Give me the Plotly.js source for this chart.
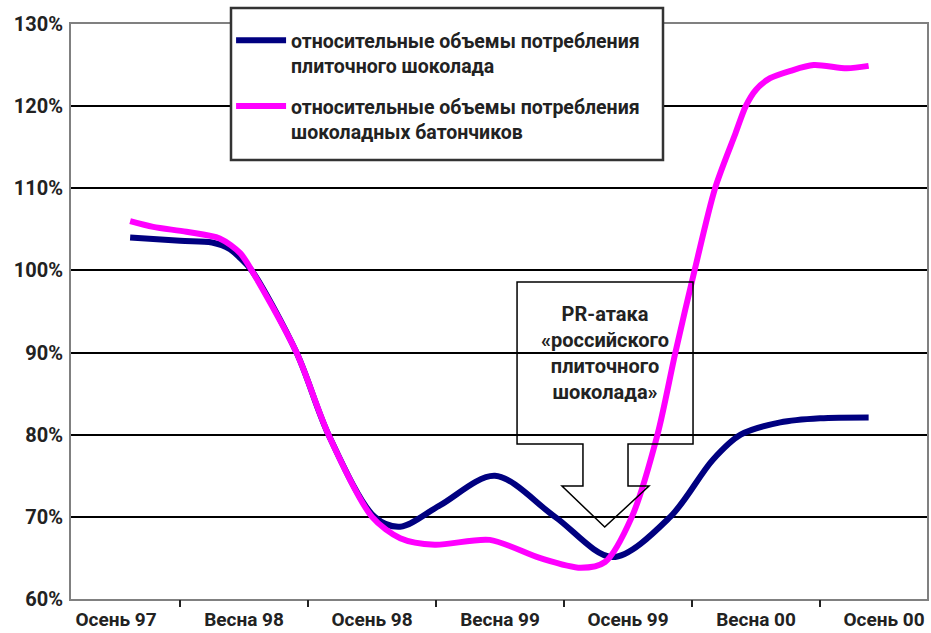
<!DOCTYPE html>
<html>
<head>
<meta charset="utf-8">
<script src="https://cdn.plot.ly/plotly-3.0.1.min.js"></script>
<style>html,body{margin:0;padding:0;background:#fff;}#chart{width:931px;height:633px;}</style>
</head>
<body>
<div id="chart"></div>
<script>
// Category labels (positions 0..6 on the x axis)
const categories = ["Осень 97", "Весна 98", "Осень 98", "Весна 99", "Осень 99", "Весна 00", "Осень 00"];
const categoryPos = [0, 1, 2, 3, 4, 5, 6];
const tickBetween = [0.5, 1.5, 2.5, 3.5, 4.5, 5.5];
const yTicks = [60, 70, 80, 90, 100, 110, 120, 130];
const yTickText = ["60%", "70%", "80%", "90%", "100%", "110%", "120%", "130%"];

// Series 1: относительные объемы потребления плиточного шоколада (%)
const barX = [0.11, 0.50, 0.75, 0.89, 0.97, 1.06, 1.41, 1.66, 2.02, 2.22, 2.53, 2.96, 3.43, 3.88, 4.33, 4.66, 4.88, 5.19, 5.50, 5.88];
const barY = [104.0, 103.6, 103.4, 102.6, 101.5, 100, 90, 80, 70, 68.8, 71.4, 75.0, 70, 65.1, 70, 76.9, 80, 81.5, 82.0, 82.1];

// Series 2: относительные объемы потребления шоколадных батончиков (%)
const snackX = [0.11, 0.29, 0.55, 0.81, 0.97, 1.06, 1.41, 1.66, 2.00, 2.22, 2.49, 2.92, 3.31, 3.63, 3.82, 4.03, 4.23, 4.37, 4.52, 4.68, 4.84, 4.92, 5.00, 5.11, 5.27, 5.45, 5.71, 5.88];
const snackY = [106, 105.3, 104.7, 103.9, 102.1, 100, 90, 80, 70, 67.4, 66.6, 67.2, 65.0, 63.8, 64.5, 70, 80, 90, 100, 110, 116.7, 120, 122.0, 123.4, 124.3, 125.0, 124.6, 124.9];

const seriesNames = [
  "относительные объемы потребления<br>плиточного шоколада",
  "относительные объемы потребления<br>шоколадных батончиков"
];
const calloutText = "PR-атака<br>«российского<br>плиточного<br>шоколада»";

const FONT = "Roboto, 'Open Sans', sans-serif";
const TXT = "#222222";

const traces = [
  {x: barX, y: barY, name: seriesNames[0], legendgroup: "a", type: "scatter", mode: "lines",
   line: {color: "#000080", width: 6, shape: "spline", smoothing: 0.9}},
  {x: snackX, y: snackY, name: seriesNames[1], legendgroup: "b", type: "scatter", mode: "lines",
   line: {color: "#FF00FF", width: 6, shape: "spline", smoothing: 0.8}},
  // invisible trace to activate the tick axis
  {x: [0], y: [60], xaxis: "x2", mode: "markers", marker: {opacity: 0}, showlegend: false, hoverinfo: "skip"}
];

// callout shape (down-arrow callout) in data coordinates
const cx = [3.133, 4.508, 3.648, 4.0, 3.484, 4.164, 3.818];
const cy = [98.59, 78.87, 73.75, 68.76];
const calloutPath =
  `M ${cx[0]},${cy[0]} L ${cx[1]},${cy[0]} L ${cx[1]},${cy[1]} L ${cx[3]},${cy[1]} L ${cx[3]},${cy[2]} ` +
  `L ${cx[5]},${cy[2]} L ${cx[6]},${cy[3]} L ${cx[4]},${cy[2]} L ${cx[2]},${cy[2]} L ${cx[2]},${cy[1]} L ${cx[0]},${cy[1]} Z`;

const xr = [-0.352, 6.336];
// legend frame in paper coordinates (plot area: x 71..927, y 24..599 px)
const lgX0 = (231 - 71) / 856, lgX1 = (663 - 71) / 856;
const lgY0 = (599 - 160) / 575, lgY1 = (599 - 8) / 575;

const layout = {
  width: 931, height: 633,
  margin: {l: 71, r: 4, t: 24, b: 34, pad: 0},
  paper_bgcolor: "#ffffff", plot_bgcolor: "#ffffff",
  font: {family: FONT, size: 20, color: TXT, weight: 700},
  showlegend: true,
  legend: {
    x: 0.187, y: 1.005, xanchor: "left", yanchor: "top",
    bgcolor: "rgba(0,0,0,0)", borderwidth: 0, valign: "top",
    traceorder: "grouped", tracegroupgap: 12,
    font: {family: FONT, size: 19.5, color: TXT, weight: 700},
    itemwidth: 50
  },
  xaxis: {
    range: xr, showgrid: false, zeroline: false,
    tickmode: "array", tickvals: categoryPos, ticktext: categories,
    ticks: "", showline: true, linecolor: "#808080", linewidth: 2, mirror: true,
    ticklabelstandoff: 2,
    tickfont: {family: FONT, size: 19, color: TXT, weight: 700}
  },
  xaxis2: {
    range: xr, overlaying: "x", side: "bottom", showgrid: false, zeroline: false,
    tickmode: "array", tickvals: tickBetween, showticklabels: false,
    ticks: "outside", ticklen: 7, tickwidth: 2, tickcolor: "#222222", showline: false
  },
  yaxis: {
    range: [60, 130], tickmode: "array", tickvals: yTicks, ticktext: yTickText,
    showgrid: true, gridcolor: "#000000", gridwidth: 2, zeroline: false,
    showline: true, linecolor: "#808080", linewidth: 2, mirror: true, ticks: "",
    ticklabelstandoff: 2,
    tickfont: {family: FONT, size: 20, color: TXT, weight: 700}
  },
  shapes: [
    {type: "rect", xref: "paper", yref: "paper", x0: lgX0, x1: lgX1, y0: lgY0, y1: lgY1,
     line: {color: "#333333", width: 2.5}, fillcolor: "#ffffff", layer: "above"},
    {type: "path", xref: "x", yref: "y", path: calloutPath, line: {color: "#000000", width: 1.5}, fillcolor: "rgba(0,0,0,0)", layer: "above"}
  ],
  annotations: [
    {x: (cx[0] + cx[1]) / 2, y: 90.0, xref: "x", yref: "y", text: calloutText, showarrow: false,
     yanchor: "middle", align: "center", font: {family: FONT, size: 20, color: TXT, weight: 700}}
  ]
};

Plotly.newPlot("chart", traces, layout, {displayModeBar: false, staticPlot: true});
</script>
</body>
</html>
